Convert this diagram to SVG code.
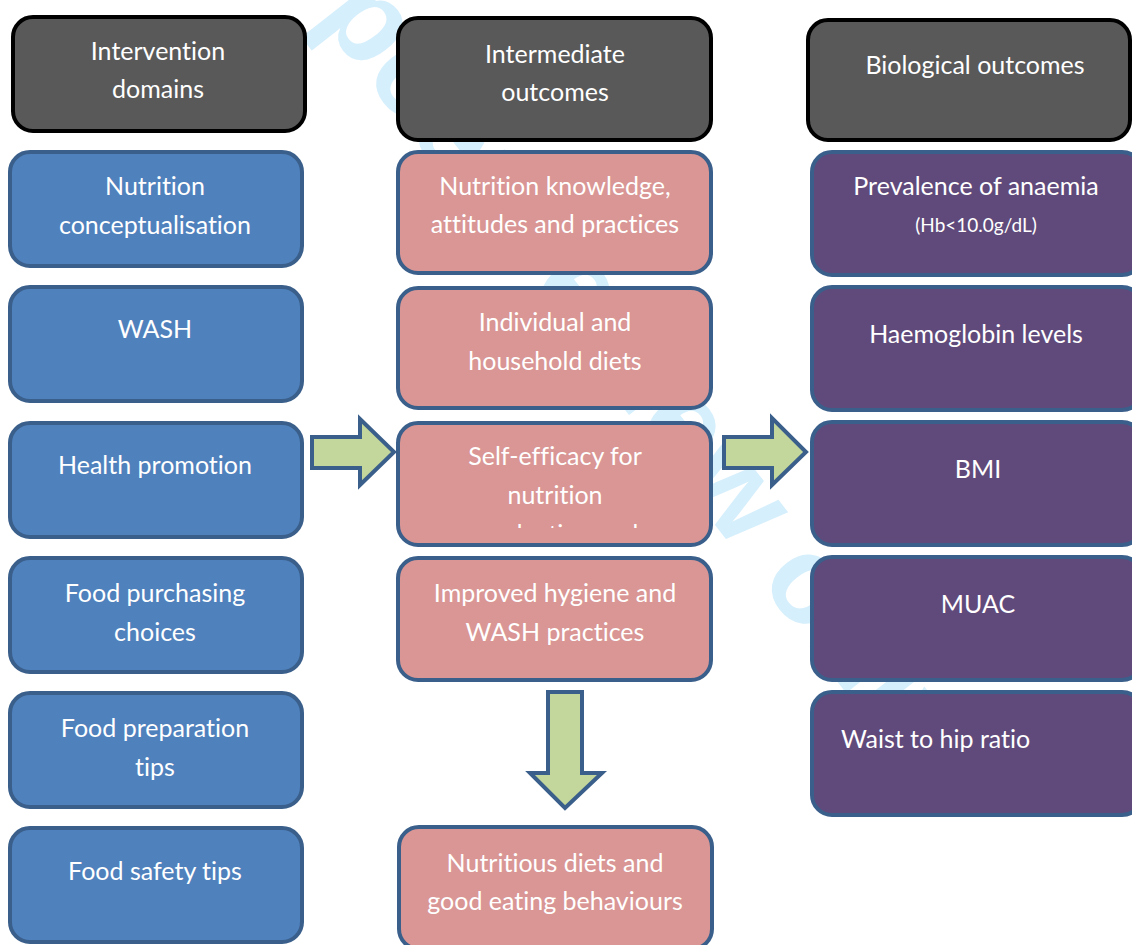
<svg xmlns="http://www.w3.org/2000/svg" width="1132" height="945" viewBox="0 0 1132 945">
  <style>
    .hdr { fill: #595959; stroke: #000000; stroke-width: 4; }
    .blue { fill: #4f81bd; stroke: #3a5f8b; stroke-width: 4; }
    .pink { fill: #d99694; stroke: #3a5f8b; stroke-width: 4; }
    .purple { fill: #604a7b; stroke: #3a5f8b; stroke-width: 4; }
    .arrow { fill: #c3d69b; stroke: #3a5f8b; stroke-width: 4; stroke-linejoin: miter; }
    text { font-family: Lato, "Open Sans", sans-serif; font-size: 25px; fill: #ffffff; text-anchor: middle; font-variant-ligatures: none; }
    .small { font-size: 19px; }
    .left { text-anchor: start; }
    .wm { font-family: "Liberation Sans", Arial, sans-serif; font-size: 124px; font-weight: bold; fill: #d6effc; text-anchor: start; }
  </style>
  <defs>
    <clipPath id="clipSelf">
      <rect x="400" y="425" width="310" height="103"/>
    </clipPath>
  </defs>
  <rect x="0" y="0" width="1132" height="945" fill="#ffffff"/>
  <text class="wm" transform="translate(172,-170) rotate(52)">For peer review only</text>

  <g id="col1">
    <g id="n-intervention-domains">
      <rect class="hdr" x="13" y="17" width="292" height="114" rx="20"/>
      <text x="158" y="60">Intervention</text>
      <text x="158" y="98">domains</text>
    </g>
    <g id="n-nutrition-conceptualisation">
      <rect class="blue" x="10" y="152" width="292" height="114" rx="20"/>
      <text x="155" y="195">Nutrition</text>
      <text x="155" y="234">conceptualisation</text>
    </g>
    <g id="n-wash">
      <rect class="blue" x="10" y="287" width="292" height="114" rx="20"/>
      <text x="155" y="338">WASH</text>
    </g>
    <g id="n-health-promotion">
      <rect class="blue" x="10" y="423" width="292" height="114" rx="20"/>
      <text x="155" y="474">Health promotion</text>
    </g>
    <g id="n-food-purchasing">
      <rect class="blue" x="10" y="558" width="292" height="114" rx="20"/>
      <text x="155" y="602">Food purchasing</text>
      <text x="155" y="641">choices</text>
    </g>
    <g id="n-food-preparation">
      <rect class="blue" x="10" y="693" width="292" height="114" rx="20"/>
      <text x="155" y="737">Food preparation</text>
      <text x="155" y="776">tips</text>
    </g>
    <g id="n-food-safety">
      <rect class="blue" x="10" y="828" width="292" height="114" rx="20"/>
      <text x="155" y="880">Food safety tips</text>
    </g>
  </g>

  <g id="col2">
    <g id="n-intermediate-outcomes">
      <rect class="hdr" x="398" y="18" width="313" height="122" rx="20"/>
      <text x="555" y="63">Intermediate</text>
      <text x="555" y="101">outcomes</text>
    </g>
    <g id="n-nutrition-kap">
      <rect class="pink" x="398" y="152" width="313" height="121" rx="20"/>
      <text x="555" y="195">Nutrition knowledge,</text>
      <text x="555" y="233">attitudes and practices</text>
    </g>
    <g id="n-diets">
      <rect class="pink" x="398" y="288" width="313" height="120" rx="20"/>
      <text x="555" y="331">Individual and</text>
      <text x="555" y="370">household diets</text>
    </g>
    <g id="n-self-efficacy">
      <rect class="pink" x="398" y="423" width="313" height="122" rx="20"/>
      <text x="555" y="465">Self-efficacy for</text>
      <text x="555" y="504">nutrition</text>
      <text x="555" y="543" clip-path="url(#clipSelf)">production and</text>
    </g>
    <g id="n-hygiene">
      <rect class="pink" x="398" y="558" width="313" height="122" rx="20"/>
      <text x="555" y="602">Improved hygiene and</text>
      <text x="555" y="641">WASH practices</text>
    </g>
    <g id="n-nutritious-diets">
      <rect class="pink" x="399" y="827" width="313" height="122" rx="20"/>
      <text x="555" y="872">Nutritious diets and</text>
      <text x="555" y="910">good eating behaviours</text>
    </g>
  </g>

  <g id="col3">
    <g id="n-biological-outcomes">
      <rect class="hdr" x="808" y="20" width="322" height="120" rx="20"/>
      <text x="975" y="74">Biological outcomes</text>
    </g>
    <g id="n-anaemia">
      <rect class="purple" x="812" y="152" width="330" height="123" rx="20"/>
      <text x="976" y="195">Prevalence of anaemia</text>
      <text class="small" x="976" y="232">(Hb&lt;10.0g/dL)</text>
    </g>
    <g id="n-haemoglobin">
      <rect class="purple" x="812" y="287" width="330" height="123" rx="20"/>
      <text x="976" y="343">Haemoglobin levels</text>
    </g>
    <g id="n-bmi">
      <rect class="purple" x="812" y="422" width="330" height="123" rx="20"/>
      <text x="978" y="478">BMI</text>
    </g>
    <g id="n-muac">
      <rect class="purple" x="812" y="557" width="330" height="123" rx="20"/>
      <text x="978" y="613">MUAC</text>
    </g>
    <g id="n-waist-hip">
      <rect class="purple" x="812" y="692" width="330" height="123" rx="20"/>
      <text class="left" x="841" y="748">Waist to hip ratio</text>
    </g>
  </g>

  <g id="connectors">
    <polygon class="arrow" points="312,437 360,437 360,419 394,452 360,485 360,468 312,468"/>
    <polygon class="arrow" points="724,437 772,437 772,418 806,452 772,485 772,468 724,468"/>
    <polygon class="arrow" points="548,692 582,692 582,773 602,773 565,808 530,773 548,773"/>
  </g>
</svg>
